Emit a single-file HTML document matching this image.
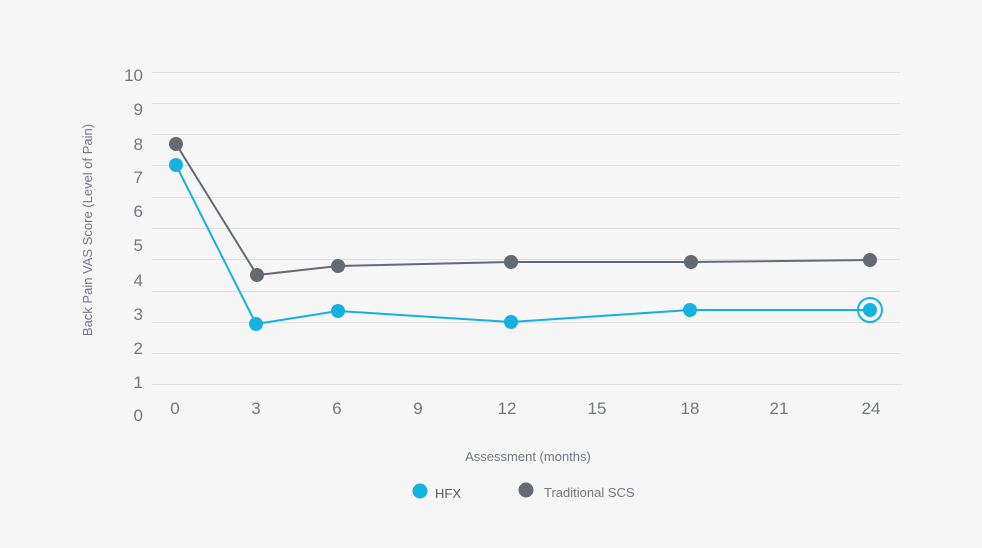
<!DOCTYPE html>
<html><head><meta charset="utf-8"><style>
html,body{margin:0;padding:0;background:#f6f6f6;}
svg{display:block;font-family:"Liberation Sans",sans-serif;}
</style></head><body>
<svg width="982" height="548" viewBox="0 0 982 548">
<rect width="982" height="548" fill="#f6f6f6"/>
<g stroke="#e0e0e0" stroke-width="1">
<line x1="152" x2="900" y1="72.5" y2="72.5"/>
<line x1="152" x2="900" y1="103.5" y2="103.5"/>
<line x1="152" x2="900" y1="134.5" y2="134.5"/>
<line x1="152" x2="900" y1="165.5" y2="165.5"/>
<line x1="152" x2="900" y1="197.5" y2="197.5"/>
<line x1="152" x2="900" y1="228.5" y2="228.5"/>
<line x1="152" x2="900" y1="259.5" y2="259.5"/>
<line x1="152" x2="900" y1="291.5" y2="291.5"/>
<line x1="152" x2="900" y1="322.5" y2="322.5"/>
<line x1="152" x2="900" y1="353.5" y2="353.5"/>
<line x1="152" x2="903" y1="384.5" y2="384.5"/>
</g>
<g fill="#737780" font-size="17" text-anchor="end">
<text x="143" y="81">10</text><text x="143" y="115">9</text><text x="143" y="150">8</text>
<text x="143" y="183">7</text><text x="143" y="217">6</text><text x="143" y="251">5</text>
<text x="143" y="286">4</text><text x="143" y="320">3</text><text x="143" y="354">2</text>
<text x="143" y="388">1</text><text x="143" y="421">0</text>
</g>
<g fill="#737780" font-size="17" text-anchor="middle">
<text x="175" y="414">0</text><text x="256" y="414">3</text><text x="337" y="414">6</text>
<text x="418" y="414">9</text><text x="507" y="414">12</text><text x="597" y="414">15</text>
<text x="690" y="414">18</text><text x="779" y="414">21</text><text x="871" y="414">24</text>
</g>
<text x="528" y="461" fill="#737780" font-size="13" text-anchor="middle">Assessment (months)</text>
<text transform="translate(92,230) rotate(-90)" fill="#737780" font-size="13" text-anchor="middle">Back Pain VAS Score (Level of Pain)</text>
<polyline fill="none" stroke="#646a73" stroke-width="2" points="176,144 257,275 338,266 511,262 691,262 870,260"/>
<g fill="#646a73">
<circle cx="176" cy="144" r="7"/><circle cx="257" cy="275" r="7"/><circle cx="338" cy="266" r="7"/>
<circle cx="511" cy="262" r="7"/><circle cx="691" cy="262" r="7"/><circle cx="870" cy="260" r="7"/>
</g>
<polyline fill="none" stroke="#14b2e0" stroke-width="2" points="176,165 256,324 338,311 511,322 690,310 870,310"/>
<g fill="#14b2e0">
<circle cx="176" cy="165" r="7"/><circle cx="256" cy="324" r="7"/><circle cx="338" cy="311" r="7"/>
<circle cx="511" cy="322" r="7"/><circle cx="690" cy="310" r="7"/><circle cx="870" cy="310" r="7"/>
</g>
<circle cx="870" cy="310" r="12" fill="none" stroke="#14b2e0" stroke-width="2"/>
<circle cx="420" cy="491" r="7.5" fill="#14b2e0"/>
<text x="435" y="498" fill="#555a62" font-size="13">HFX</text>
<circle cx="526" cy="490" r="7.5" fill="#646a73"/>
<text x="544" y="497" fill="#737780" font-size="13">Traditional SCS</text>
</svg>
</body></html>
